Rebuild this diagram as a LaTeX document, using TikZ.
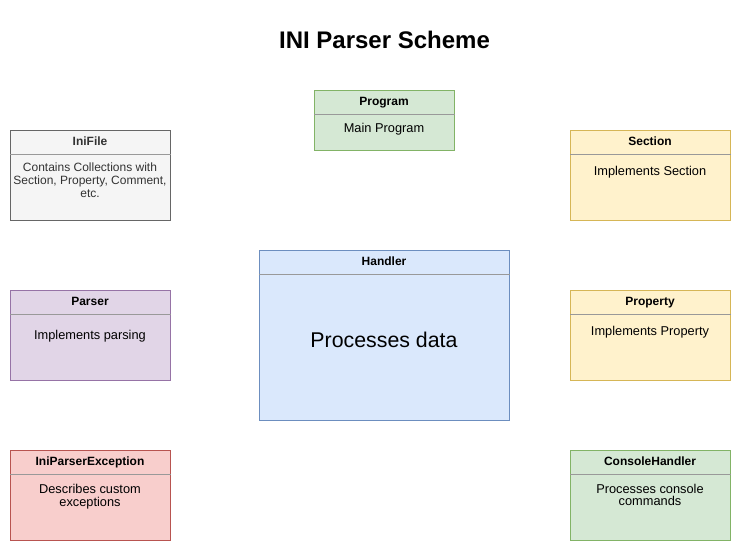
\documentclass[tikz,border=0pt]{standalone}
\usepackage{fontspec}
\setmainfont{Liberation Sans}
\definecolor{grayfill}{HTML}{F5F5F5}\definecolor{graydraw}{HTML}{666666}
\definecolor{greenfill}{HTML}{D5E8D4}\definecolor{greendraw}{HTML}{82B366}
\definecolor{yellowfill}{HTML}{FFF2CC}\definecolor{yellowdraw}{HTML}{D6B656}
\definecolor{bluefill}{HTML}{DAE8FC}\definecolor{bluedraw}{HTML}{6C8EBF}
\definecolor{purplefill}{HTML}{E1D5E7}\definecolor{purpledraw}{HTML}{9673A6}
\definecolor{redfill}{HTML}{F8CECC}\definecolor{reddraw}{HTML}{B85450}
\definecolor{divcol}{HTML}{999999}
\definecolor{darktext}{HTML}{333333}
\tikzset{
  box/.style={rectangle, line width=0.75pt, outer sep=0pt, inner sep=0pt},
  sgray/.style={fill=grayfill, draw=graydraw},
  sgreen/.style={fill=greenfill, draw=greendraw},
  syellow/.style={fill=yellowfill, draw=yellowdraw},
  sblue/.style={fill=bluefill, draw=bluedraw},
  spurple/.style={fill=purplefill, draw=purpledraw},
  sred/.style={fill=redfill, draw=reddraw},
  small/.style={minimum width=120pt, minimum height=67.5pt},
  head/.style={anchor=base, inner sep=0pt, font=\bfseries\fontsize{9}{10}\selectfont},
  bodytext/.style={anchor=north, inner sep=0pt, align=center, font=\fontsize{9.6}{9.6}\selectfont},
  divider/.style={draw=divcol, line width=0.75pt},
  titletext/.style={inner sep=0pt, font=\bfseries\fontsize{18}{20}\selectfont}
}
\begin{document}
\begin{tikzpicture}[x=0.75pt,y=-0.75pt]
\useasboundingbox (0,0) rectangle (741,551);
\fill[white] (0,0) rectangle (741,551);

\node[titletext] (title) at (384.5,40) {INI Parser Scheme};

% Program
\node[box, sgreen, minimum width=105pt, minimum height=45pt] (program) at (384,120) {};
\draw[divider] ([yshift=-18pt]program.north west) -- ([yshift=-18pt,xshift=0.75pt]program.north east);
\node[head] (programh) at (384,105.5) {Program};
\node[bodytext] (programb) at (384,123) {Main Program};

% IniFile
\node[box, sgray, small] (inifile) at (90,175) {};
\draw[divider] ([yshift=-18pt]inifile.north west) -- ([yshift=-18pt,xshift=0.75pt]inifile.north east);
\node[head, text=darktext] (inifileh) at (90,145.5) {IniFile};
\node[bodytext, text=darktext, font=\fontsize{9}{9.4}\selectfont] (inifileb) at (90,163) {Contains Collections with\\Section, Property, Comment,\\etc.};

% Section
\node[box, syellow, small] (section) at (650,175) {};
\draw[divider] ([yshift=-18pt]section.north west) -- ([yshift=-18pt,xshift=0.75pt]section.north east);
\node[head] (sectionh) at (650,145.5) {Section};
\node[bodytext] (sectionb) at (650,165.5) {Implements Section};

% Handler
\node[box, sblue, minimum width=187.5pt, minimum height=127.5pt] (handler) at (384,335) {};
\draw[divider] ([yshift=-18pt]handler.north west) -- ([yshift=-18pt,xshift=0.75pt]handler.north east);
\node[head] (handlerh) at (384,265.5) {Handler};
\node[bodytext, font=\fontsize{16}{18}\selectfont] (handlerb) at (384,331.5) {Processes data};

% Parser
\node[box, spurple, small] (parser) at (90,335) {};
\draw[divider] ([yshift=-18pt]parser.north west) -- ([yshift=-18pt,xshift=0.75pt]parser.north east);
\node[head] (parserh) at (90,305.5) {Parser};
\node[bodytext] (parserb) at (90,329.5) {Implements parsing};

% Property
\node[box, syellow, small] (property) at (650,335) {};
\draw[divider] ([yshift=-18pt]property.north west) -- ([yshift=-18pt,xshift=0.75pt]property.north east);
\node[head] (propertyh) at (650,305.5) {Property};
\node[bodytext] (propertyb) at (650,325.5) {Implements Property};

% IniParserException
\node[box, sred, small] (exception) at (90,495) {};
\draw[divider] ([yshift=-18pt]exception.north west) -- ([yshift=-18pt,xshift=0.75pt]exception.north east);
\node[head] (exceptionh) at (90,465.5) {IniParserException};
\node[bodytext] (exceptionb) at (90,484) {Describes custom\\exceptions};

% ConsoleHandler
\node[box, sgreen, small] (console) at (650,495) {};
\draw[divider] ([yshift=-18pt]console.north west) -- ([yshift=-18pt,xshift=0.75pt]console.north east);
\node[head] (consoleh) at (650,465.5) {ConsoleHandler};
\node[bodytext] (consoleb) at (650,483.5) {Processes console\\commands};
\end{tikzpicture}
\end{document}
